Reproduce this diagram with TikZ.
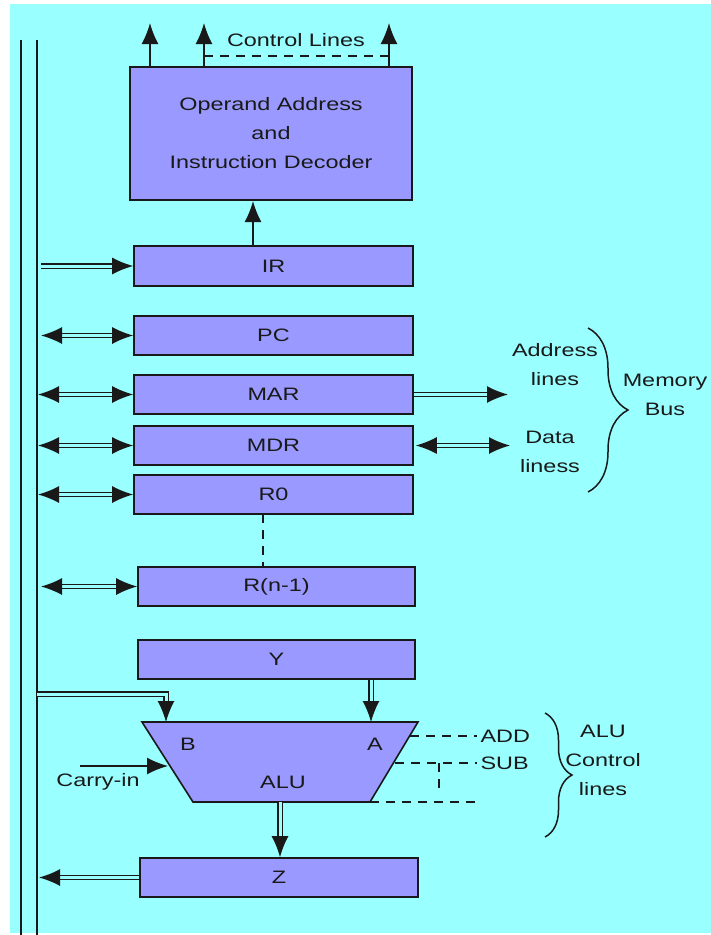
\documentclass[tikz,border=0pt]{standalone}
\usepackage{fontspec}
\setmainfont{Liberation Sans}[FakeStretch=1.3]
\usetikzlibrary{arrows.meta,positioning,decorations.pathreplacing}
\definecolor{buscyan}{RGB}{153,255,255}
\definecolor{regblue}{RGB}{153,153,255}
\definecolor{inkgrey}{RGB}{25,25,25}

\begin{document}
\begin{tikzpicture}[
    x=1pt, y=-1pt,
    every node/.style={font=\fontsize{18}{29}\selectfont, text=inkgrey},
    reg/.style={draw=inkgrey, fill=regblue, line width=1.6pt,
        minimum width=279pt, minimum height=39pt, inner sep=0pt},
    dbl/.style={draw=inkgrey, double=buscyan, double distance=3pt, line width=1.4pt},
    sgl/.style={draw=inkgrey, line width=1.5pt},
    ctrl/.style={draw=inkgrey, line width=1.3pt, dash pattern=on 9pt off 7pt},
    brc/.style={draw=inkgrey, line width=1.5pt, decorate, decoration={brace, amplitude=#1}},
    >={Latex[length=21pt, width=17pt]}
]
\useasboundingbox (0,0) rectangle (711,935);
\fill[buscyan] (10,4) rectangle (711,933);

% system bus
\coordinate (busA) at (21,40);
\coordinate (busB) at (37,40);
\draw[sgl] (busA) -- (busA |- 0,935);
\draw[sgl] (busB) -- (busB |- 0,935);

% registers
\node[reg, minimum width=282pt, minimum height=133pt, align=center] (dec) at (271,133.5)
    {Operand Address\\and\\Instruction Decoder};
\node[reg, minimum height=40pt] (ir) at (273.5,266) {IR};
\node[reg] (pc) at (273.5,335.5) {PC};
\node[reg] (mar) at (273.5,394.5) {MAR};
\node[reg] (mdr) at (273.5,445.5) {MDR};
\node[reg] (r0) at (273.5,494.5) {R0};
\node[reg, minimum width=277pt] (rn) at (276.5,586.5) {R(n-1)};
\node[reg, minimum width=277pt] (y) at (276.5,659.5) {Y};
\node[reg, minimum width=278pt] (z) at (279,877.5) {Z};

% ALU
\coordinate (aluTL) at (142,722);
\coordinate (aluTR) at (418,722);
\coordinate (aluBR) at (370,802);
\coordinate (aluBL) at (193,802);
\draw[draw=inkgrey, fill=regblue, line width=1.6pt] (aluTL) -- (aluTR) -- (aluBR) -- (aluBL) -- cycle;
\node (inBtxt) at (188,744) {B};
\node (inAtxt) at (375,744) {A};
\node (alu) at (283,782) {ALU};
\node (cin) at (98,782) {Carry-in};

% control lines
\node (ctltxt) at (296,40) {Control Lines};
\foreach \cx/\cn in {150/ctlA, 204/ctlB, 389/ctlC} {
    \coordinate (\cn) at (\cx,23);
    \draw[sgl,->] (dec.north -| \cn) -- (\cn);
}
\draw[ctrl] (ctlB |- 0,56) -- (ctlC |- 0,56);
\coordinate (irup) at (253,201);
\draw[sgl,->] (ir.north -| irup) -- (irup);

% bus connections
\draw[dbl,->,shorten <=4pt] (ir.west -| busB) -- (ir.west);
\draw[dbl,<->,shorten <=4pt] (pc.west -| busB) -- (pc.west);
\draw[dbl,<->,shorten <=1pt] (mar.west -| busB) -- (mar.west);
\draw[dbl,<->,shorten <=1pt] (mdr.west -| busB) -- (mdr.west);
\draw[dbl,<->,shorten <=1pt] (r0.west -| busB) -- (r0.west);
\draw[dbl,<->,shorten <=4pt] (rn.west -| busB) -- (rn.west);
\draw[dbl,->,shorten >=2pt] (z.west) -- (z.west -| busB);
\coordinate (rdots) at (263,514);
\draw[ctrl] (rdots) -- (rdots |- rn.north);

% memory bus
\coordinate (addr) at (508,396);
\coordinate (data) at (510,445);
\draw[dbl,->] (mar.east) -- (mar.east -| addr);
\draw[dbl,<->,shorten <=2pt] (mdr.east) -- (mdr.east -| data);
\node[align=center] (addrtxt) at (555,365) {Address\\lines};
\node[align=center] (datatxt) at (550,452) {Data\\liness};
\draw[brc=40pt] (588,328) -- (588,492);
\node[align=center] (memtxt) at (665,395) {Memory\\Bus};

% ALU inputs and output
\coordinate (tapB) at (37,694);
\coordinate (inB) at (166,722);
\coordinate (inA) at (371,722);
\coordinate (aluout) at (280,802);
\draw[dbl,->] (tapB) -| (inB);
\draw[dbl,->] (y.south -| inA) -- (inA);
\draw[dbl,->] (aluout) -- (aluout |- z.north);
\coordinate (cinS) at (80,766);
\coordinate (cinE) at (168,766);
\draw[sgl,->] (cinS) -- (cinE);

% ALU control lines
\node[anchor=west] (add) at (477,736) {ADD};
\node[anchor=west] (sub) at (477,763) {SUB};
\draw[ctrl] (410,736) -- (add.west);
\draw[ctrl] (395,763) -- (sub.west);
\draw[ctrl] (439,763) -- (439,795);
\draw[ctrl] (aluBR) -- ++(108,0);
\draw[brc=27pt] (545,713) -- (545,837);
\node[align=center] (aluctl) at (603,760) {ALU\\Control\\lines};
\end{tikzpicture}
\end{document}
